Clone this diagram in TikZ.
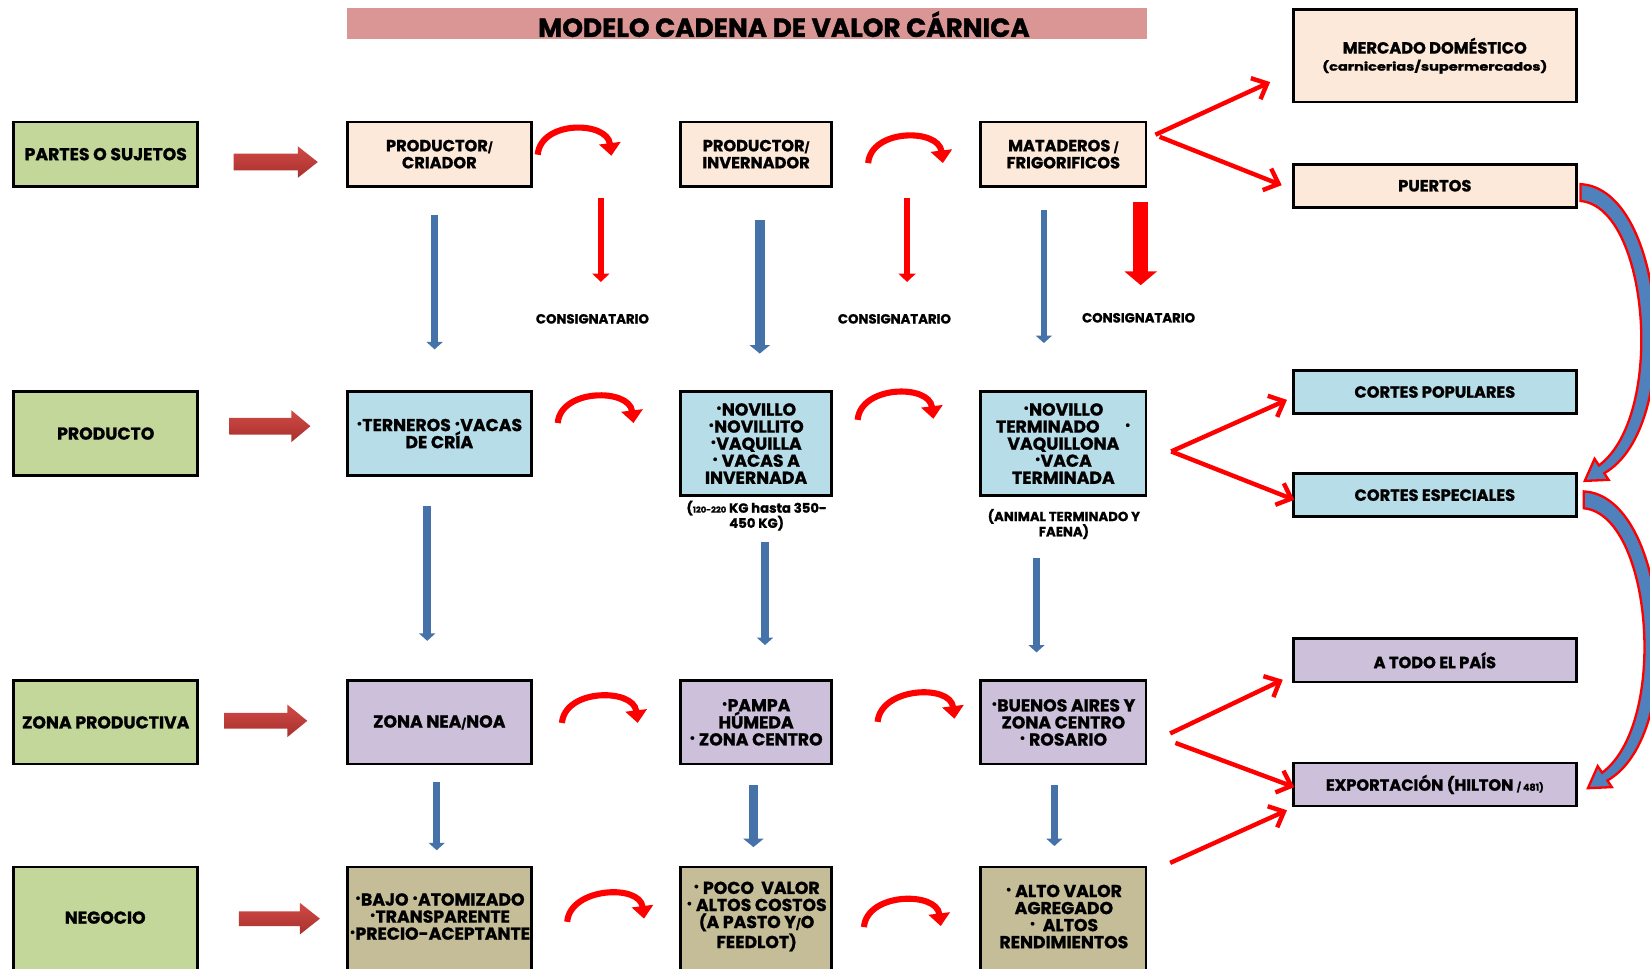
\documentclass[tikz,border=0pt]{standalone}
\usepackage{fontspec}
\setmainfont{Poppins}[BoldFeatures={FakeBold=1.2}]
\usetikzlibrary{arrows.meta,calc}
\definecolor{greenbox}{HTML}{C4D79B}
\definecolor{peachbox}{HTML}{FDE9D9}
\definecolor{bluebox}{HTML}{B7DEE8}
\definecolor{lilacbox}{HTML}{CCC0DA}
\definecolor{tanbox}{HTML}{C4BD97}
\definecolor{titlebar}{HTML}{DA9694}
\definecolor{arrtop}{HTML}{D04A46}
\definecolor{arrbot}{HTML}{A8302D}
\definecolor{steel}{HTML}{4F81BD}
\definecolor{steelline}{HTML}{4672AA}
\definecolor{redarr}{HTML}{FF0000}
\newcommand{\bul}{{\fontsize{5.5pt}{5.5pt}\selectfont\raisebox{0.55ex}{•}}}
\newcommand{\smsl}{{\fontsize{5pt}{5pt}\selectfont/}}
\newcommand{\boxfont}{\fontsize{8.2pt}{8.1pt}\selectfont\bfseries}
\newcommand{\rfont}{\fontsize{7.7pt}{8.1pt}\selectfont\bfseries}
\newcommand{\bx}[7]{\node[#1, minimum width={(#5-#3)*0.5pt}, minimum height={(#6-#4)*0.5pt}] (#2) at ({(#3+#5)/2},{(#4+#6)/2}) {#7};}
\newcommand{\blockarr}[6]{\shade[top color=arrtop,bottom color=arrbot] (#1,{#4-#5}) -- (#2,{#4-#5}) -- (#2,{#4-#6}) -- (#3,#4) -- (#2,{#4+#6}) -- (#2,{#4+#5}) -- (#1,{#4+#5}) -- cycle;}
\tikzset{
  box/.style={draw=black, line width=1.3pt, inner sep=0pt, align=center, font=\boxfont},
  gbox/.style={box, fill=greenbox},
  pbox/.style={box, fill=peachbox, font=\rfont},
  bbox/.style={box, fill=bluebox},
  lbox/.style={box, fill=lilacbox},
  tbox/.style={box, fill=tanbox},
  txt/.style={inner sep=0pt, align=center, font=\boxfont},
  note/.style={inner sep=0pt, align=center, font=\fontsize{6.3pt}{7.2pt}\selectfont\bfseries},
  arcarr/.style={draw=redarr, line width=2.9pt, -{Triangle[length=6pt,width=10pt]}},
  consarr/.style={draw=redarr, line width=2.5pt, -{Triangle[length=4pt,width=8pt]}},
  bluearr/.style={draw=steelline, line width=3.2pt, -{Triangle[length=3.5pt,width=7.5pt]}},
  diagarr/.style={draw=redarr, line width=2.1pt, -{Straight Barb[length=6pt,width=11pt]}},
}
\begin{document}
\begin{tikzpicture}[x=0.5pt,y=-0.5pt]
\useasboundingbox (0,0) rectangle (1568,920);
\clip (0,0) rectangle (1568,920);
% title
\node[fill=titlebar, minimum width=380pt, minimum height=14.5pt, inner sep=0pt] (titlebg) at (710,22.5) {};
\node[inner sep=0pt, font=\fontsize{12.5pt}{13pt}\selectfont\bfseries] (title) at (745,23) {MODELO CADENA DE VALOR CÁRNICA};
% left column
\bx{gbox}{pa}{13}{116}{188}{177}{PARTES O SUJETOS}
\bx{gbox}{pr}{13}{372}{188}{452}{PRODUCTO}
\bx{gbox}{zp}{13}{647}{188}{726}{ZONA PRODUCTIVA}
\bx{gbox}{ng}{13}{824}{188}{940}{}
\node[txt] (ngt) at (100,872) {NEGOCIO};
% column 2
\bx{pbox}{c21}{330}{116}{505}{177}{PRODUCTOR\smsl\\CRIADOR}
\bx{bbox}{c22}{330}{372}{505}{452}{\bul TERNEROS \bul VACAS\\DE CRÍA}
\bx{lbox}{c23}{330}{647}{505}{726}{ZONA NEA\smsl NOA}
\bx{tbox}{c24}{330}{824}{505}{940}{}
\node[txt] (c24t) at (418,871) {\bul BAJO \bul ATOMIZADO\\\bul TRANSPARENTE\\\bul PRECIO-ACEPTANTE};
% column 3
\bx{pbox}{c31}{647}{116}{790}{177}{PRODUCTOR\smsl\\INVERNADOR}
\bx{bbox}{c32}{647}{372}{790}{471}{\bul NOVILLO\\\bul NOVILLITO\\\bul VAQUILLA\\\bul\ VACAS A\\INVERNADA}
\bx{lbox}{c33}{647}{647}{790}{726}{\bul PAMPA\\HÚMEDA\\\bul\ ZONA CENTRO}
\bx{tbox}{c34}{647}{824}{790}{940}{}
\node[txt] (c34t) at (719,871) {\bul\ POCO\ \ VALOR\\\bul\ ALTOS COSTOS\\{\fontsize{7.6pt}{8pt}\selectfont(}A PASTO Y\smsl O\\FEEDLOT{\fontsize{7.6pt}{8pt}\selectfont)}};
\node[note] (n32) at (719,490) {({\fontsize{4pt}{4pt}\selectfont 120-220} KG hasta 350-\\450 KG)};
% column 4
\bx{pbox}{c41}{932}{116}{1089}{177}{MATADEROS \smsl\\FRIGORIFICOS}
\bx{bbox}{c42}{932}{372}{1089}{471}{\bul NOVILLO\\TERMINADO\hspace{12pt}\bul\\VAQUILLONA\\\bul VACA\\TERMINADA}
\bx{lbox}{c43}{932}{647}{1089}{726}{\bul BUENOS AIRES Y\\ZONA CENTRO\\\bul\ ROSARIO}
\bx{tbox}{c44}{932}{824}{1089}{940}{}
\node[txt] (c44t) at (1011,871) {\bul\ ALTO VALOR\\AGREGADO\\\bul\ \ ALTOS\\RENDIMIENTOS};
\node[note] (n42) at (1011,498) {(ANIMAL TERMINADO Y\\FAENA)};
% right column
\bx{pbox}{r1}{1229}{9}{1498}{97}{MERCADO DOMÉSTICO\\\resizebox{107pt}{\height}{\fontsize{5.5pt}{7pt}\selectfont (carnicerias/supermercados)}}
\bx{pbox}{r2}{1229}{156}{1498}{197}{PUERTOS}
\bx{bbox, font=\rfont}{r3}{1229}{352}{1498}{393}{CORTES POPULARES}
\bx{bbox, font=\rfont}{r4}{1229}{450}{1498}{491}{CORTES ESPECIALES}
\bx{lbox, font=\rfont}{r5}{1229}{607}{1498}{648}{A TODO EL PAÍS}
\bx{lbox, font=\rfont}{r6}{1229}{725}{1498}{766}{EXPORTACIÓN (HILTON {\fontsize{4.5pt}{4.5pt}\selectfont / 481)}}
% consignatario labels
\node[note] (k1) at (563,303) {CONSIGNATARIO};
\node[note] (k2) at (850,303) {CONSIGNATARIO};
\node[note] (k3) at (1082,302) {CONSIGNATARIO};
% block arrows
\blockarr{222}{283}{302}{154}{8}{15}
\blockarr{218}{277}{295}{405}{8}{15}
\blockarr{213}{273}{292}{685}{7.5}{15.5}
\blockarr{227}{285}{304}{873}{7}{15}
% curved red arrows
\foreach \sx/\sy/\ex/\ey in {511/147/581/148, 825/155/896/155, 530/402/602/402, 815/399/887/398, 534/687/606/687, 834/686/907/683, 539/876/612/873, 821/881/894/880}{
  \coordinate (s) at (\sx,\sy);
  \coordinate (e) at (\ex,\ey);
  \draw[arcarr] (s) .. controls ($(s)+(3,-33)$) and ($(e)+(-4,-33)$) .. (e);
}
% consignatario arrows
\coordinate (ka1) at (571,188); \coordinate (kb1) at (571,268);
\coordinate (ka2) at (862,188); \coordinate (kb2) at (862,268);
\coordinate (ka3) at (1084,192); \coordinate (kb3) at (1084,271);
\draw[consarr] (ka1) -- (kb1);
\draw[consarr] (ka2) -- (kb2);
\draw[draw=redarr, line width=7pt, -{Triangle[length=6.5pt,width=15pt]}] (ka3) -- (kb3);
% blue arrows
\coordinate (b1a) at (413,204); \coordinate (b1b) at (413,332);
\coordinate (b2a) at (722,209); \coordinate (b2b) at (722,336);
\coordinate (b3a) at (992,200); \coordinate (b3b) at (992,326);
\coordinate (b4a) at (406,481); \coordinate (b4b) at (406,609);
\coordinate (b5a) at (727,515); \coordinate (b5b) at (727,613);
\coordinate (b6a) at (985,530); \coordinate (b6b) at (985,620);
\coordinate (b7a) at (415,743); \coordinate (b7b) at (415,808);
\coordinate (b8a) at (716,746); \coordinate (b8b) at (716,805);
\coordinate (b9a) at (1002,746); \coordinate (b9b) at (1002,804);
\draw[bluearr] (b1a) -- (b1b);
\draw[bluearr, line width=4.5pt, -{Triangle[length=4pt,width=9.5pt]}] (b2a) -- (b2b);
\draw[bluearr] (b3a) -- (b3b);
\draw[bluearr, line width=3.6pt] (b4a) -- (b4b);
\draw[bluearr, line width=3.6pt] (b5a) -- (b5b);
\draw[bluearr] (b6a) -- (b6b);
\draw[bluearr] (b7a) -- (b7b);
\draw[bluearr, line width=4.5pt, -{Triangle[length=4pt,width=9.5pt]}] (b8a) -- (b8b);
\draw[bluearr] (b9a) -- (b9b);
% diagonal red arrows
\coordinate (v1) at (1098,128); \coordinate (v1b) at (1102,130);
\coordinate (v2) at (1113,429);
\coordinate (v3) at (1112,697); \coordinate (v3b) at (1117,706);
\coordinate (v4) at (1112,820);
\draw[diagarr] (v1) -- (1207,78);
\draw[diagarr] (v1b) -- (1218,176);
\draw[diagarr] (v2) -- (1223,380);
\draw[diagarr] (v2) -- (1230,475);
\draw[diagarr] (v3) -- (1219,646);
\draw[diagarr] (v3b) -- (1230,748);
\draw[diagarr] (v4) -- (1223,770);
% big curved arrows on the right
\foreach \dx/\dy in {0/0, 3/292}{
\begin{scope}[shift={(\dx,\dy)}]
\filldraw[fill=steel, draw=redarr, line width=1.1pt, line join=miter]
  (1502,175) .. controls (1583,179) and (1601,406) .. (1524.5,449.7)
  -- (1528.7,456) -- (1506,457) -- (1515.3,436) -- (1519.5,442.3)
  .. controls (1583,395) and (1567,197) .. (1502,191) -- cycle;
\end{scope}
}
\end{tikzpicture}
\end{document}
